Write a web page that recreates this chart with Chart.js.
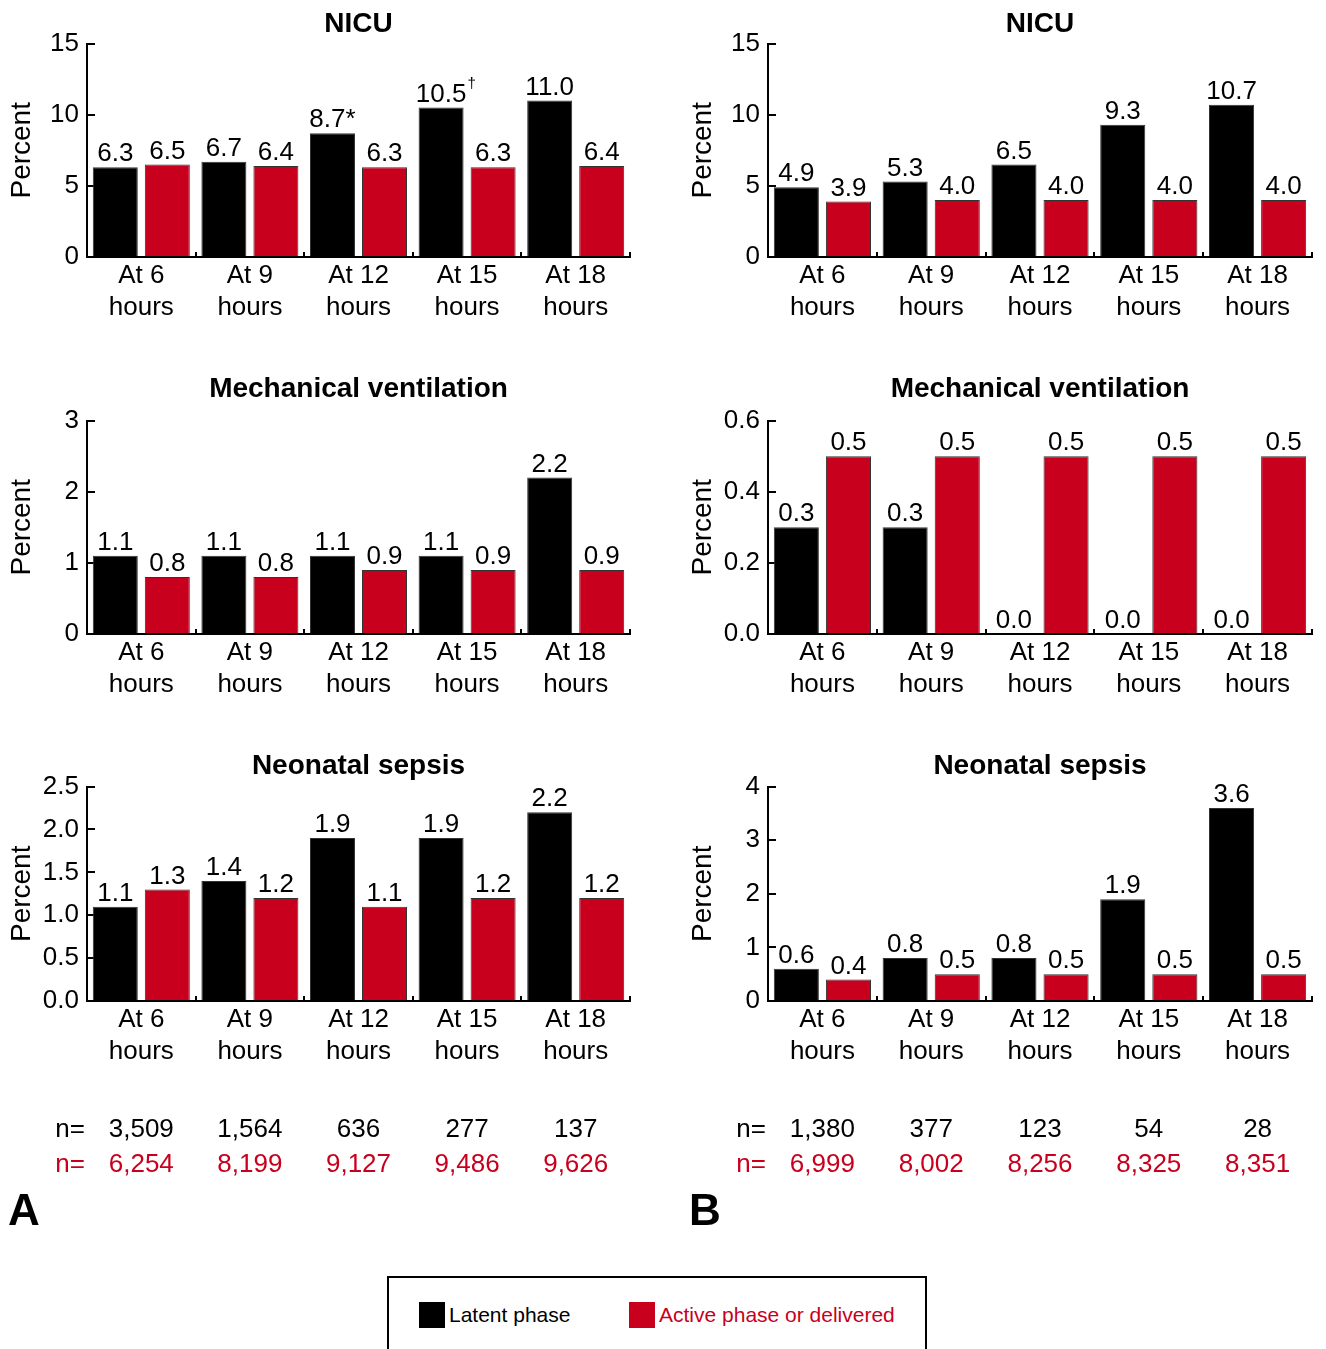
<!DOCTYPE html>
<html>
<head>
<meta charset="utf-8">
<script src="https://cdn.jsdelivr.net/npm/chart.js@4.4.1/dist/chart.umd.min.js"></script>
<style>
  body { margin: 0; background: #fff; width: 1326px; height: 1349px; overflow: hidden; position: relative;
         font-family: "Liberation Sans", Arial, sans-serif; }
  canvas { position: absolute; }
  #legend { position: absolute; left: 387px; top: 1276px; width: 540px; height: 90px; border: 2px solid #000; box-sizing: border-box; }
  .item { position: absolute; top: 24px; display: flex; align-items: center; font-size: 21px; }
  .swatch { width: 26px; height: 26px; margin-right: 4px; }
</style>
</head>
<body>
<canvas id="a1"></canvas>
<canvas id="b1"></canvas>
<canvas id="a2"></canvas>
<canvas id="b2"></canvas>
<canvas id="a3"></canvas>
<canvas id="b3"></canvas>
<div id="legend"></div>
<script>
// categories and series
const categories = [["At 6", "hours"], ["At 9", "hours"], ["At 12", "hours"], ["At 15", "hours"], ["At 18", "hours"]];
const seriesNames = ["Latent phase", "Active phase or delivered"];
const BLACK = "#000000";
const RED = "#C8001E";

// panel A (left column)
const nicuLatentA = [6.3, 6.7, 8.7, 10.5, 11.0];
const nicuActiveA = [6.5, 6.4, 6.3, 6.3, 6.4];
const nicuMarksA = ["", "", "*", "†", ""];
const ventLatentA = [1.1, 1.1, 1.1, 1.1, 2.2];
const ventActiveA = [0.8, 0.8, 0.9, 0.9, 0.9];
const sepsisLatentA = [1.1, 1.4, 1.9, 1.9, 2.2];
const sepsisActiveA = [1.3, 1.2, 1.1, 1.2, 1.2];
const nLatentA = [3509, 1564, 636, 277, 137];
const nActiveA = [6254, 8199, 9127, 9486, 9626];

// panel B (right column)
const nicuLatentB = [4.9, 5.3, 6.5, 9.3, 10.7];
const nicuActiveB = [3.9, 4.0, 4.0, 4.0, 4.0];
const ventLatentB = [0.3, 0.3, 0.0, 0.0, 0.0];
const ventActiveB = [0.5, 0.5, 0.5, 0.5, 0.5];
const sepsisLatentB = [0.6, 0.8, 0.8, 1.9, 3.6];
const sepsisActiveB = [0.4, 0.5, 0.5, 0.5, 0.5];
const nLatentB = [1380, 377, 123, 54, 28];
const nActiveB = [6999, 8002, 8256, 8325, 8351];

// y axis settings: [max, step, decimals]
const axisNicu = [15, 5, 0];
const axisVentA = [3, 1, 0];
const axisVentB = [0.6, 0.2, 1];
const axisSepsisA = [2.5, 0.5, 1];
const axisSepsisB = [4, 1, 0];

const FONT = '"Liberation Sans", Arial, sans-serif';
Chart.defaults.font.family = FONT;
Chart.defaults.color = "#000";

// value labels on top of each bar
const barValues = {
  id: "barValues",
  afterDatasetsDraw(chart) {
    const ctx = chart.ctx;
    ctx.save();
    ctx.textAlign = "center";
    ctx.textBaseline = "alphabetic";
    ctx.fillStyle = "#000";
    chart.data.datasets.forEach((ds, i) => {
      const meta = chart.getDatasetMeta(i);
      meta.data.forEach((bar, j) => {
        const mark = (ds.marks || [])[j] || "";
        let txt = ds.data[j].toFixed(1);
        if (mark === "*") txt += "*";
        ctx.font = "26px " + FONT;
        ctx.fillText(txt, bar.x, bar.y - 6);
        if (mark === "†") {
          const w = ctx.measureText(txt).width;
          ctx.font = "15px " + FONT;
          ctx.textAlign = "left";
          ctx.fillText("†", bar.x + w / 2 + 1, bar.y - 20);
          ctx.textAlign = "center";
        }
      });
    });
    ctx.restore();
  }
};

// n= rows and panel letter under the bottom charts
const nRows = {
  id: "nRows",
  afterDraw(chart, args, opts) {
    if (!opts.latent) return;
    const { ctx, chartArea } = chart;
    const x = chart.scales.x;
    ctx.save();
    ctx.font = "26px " + FONT;
    ctx.textBaseline = "middle";
    [[opts.latent, BLACK, 129], [opts.active, RED, 164]].forEach(([vals, color, dy]) => {
      ctx.fillStyle = color;
      ctx.textAlign = "right";
      ctx.fillText("n=", chartArea.left - 2, chartArea.bottom + dy);
      ctx.textAlign = "center";
      vals.forEach((v, i) => ctx.fillText(v.toLocaleString("en-US"), x.getPixelForValue(i), chartArea.bottom + dy));
    });
    ctx.fillStyle = "#000";
    ctx.font = "bold 44px " + FONT;
    ctx.textAlign = "left";
    ctx.fillText(opts.letter, chartArea.left - 79, chartArea.bottom + 212);
    ctx.restore();
  }
};

function makePanel(id, pos, title, titlePad, latent, active, axis, marks, extra) {
  const canvas = document.getElementById(id);
  canvas.width = pos.w;
  canvas.height = pos.h;
  canvas.style.left = pos.left + "px";
  canvas.style.top = pos.top + "px";
  const [max, step, dec] = axis;
  return new Chart(canvas, {
    type: "bar",
    data: {
      labels: categories,
      datasets: [
        { label: seriesNames[0], data: latent, marks: marks || [], backgroundColor: BLACK, borderColor: "#333", borderWidth: 1 },
        { label: seriesNames[1], data: active, backgroundColor: RED, borderColor: "#333", borderWidth: 1 }
      ]
    },
    options: {
      responsive: false,
      animation: false,
      layout: { padding: { left: 0, right: pos.padRight, top: 0, bottom: pos.padBottom || 0 } },
      datasets: { bar: { categoryPercentage: 0.958, barPercentage: 0.865 } },
      plugins: {
        legend: { display: false },
        tooltip: { enabled: false },
        title: {
          display: true, text: title, fullSize: false, color: "#000",
          font: { size: 28, weight: "bold" }, padding: titlePad
        },
        nRows: extra || {}
      },
      scales: {
        x: {
          grid: { display: true, drawOnChartArea: false, drawTicks: true, tickLength: -5, color: "#000", lineWidth: 2 },
          border: { display: true, color: "#000", width: 2 },
          ticks: { font: { size: 26, lineHeight: 1.22 }, color: "#000", padding: 8, maxRotation: 0, autoSkip: false },
          afterFit(scale) { scale.height = 73; }
        },
        y: {
          min: 0, max: max,
          grid: { display: true, drawOnChartArea: false, drawTicks: true, tickLength: -8, color: "#000", lineWidth: 2 },
          border: { display: true, color: "#000", width: 2 },
          ticks: {
            stepSize: step, padding: 16, color: "#000", font: { size: 26 },
            callback: (v) => Number(v).toFixed(dec)
          },
          title: { display: true, text: "Percent", color: "#000", font: { size: 28 }, padding: { top: 5, bottom: 0 } },
          afterFit(scale) { scale.width = 87; }
        }
      }
    },
    plugins: [barValues, nRows]
  });
}

makePanel("a1", { left: 0, top: 0, w: 640, h: 330, padRight: 10 }, "NICU", { top: 7, bottom: 3 },
  nicuLatentA, nicuActiveA, axisNicu, nicuMarksA);
makePanel("b1", { left: 681, top: 0, w: 640, h: 330, padRight: 9 }, "NICU", { top: 7, bottom: 3 },
  nicuLatentB, nicuActiveB, axisNicu);
makePanel("a2", { left: 0, top: 360, w: 640, h: 347, padRight: 10 }, "Mechanical ventilation", { top: 12, bottom: 15 },
  ventLatentA, ventActiveA, axisVentA);
makePanel("b2", { left: 681, top: 360, w: 640, h: 347, padRight: 9 }, "Mechanical ventilation", { top: 12, bottom: 15 },
  ventLatentB, ventActiveB, axisVentB);
makePanel("a3", { left: 0, top: 740, w: 640, h: 510, padRight: 10, padBottom: 176 }, "Neonatal sepsis", { top: 9, bottom: 4 },
  sepsisLatentA, sepsisActiveA, axisSepsisA, null, { latent: nLatentA, active: nActiveA, letter: "A" });
makePanel("b3", { left: 681, top: 740, w: 640, h: 510, padRight: 9, padBottom: 176 }, "Neonatal sepsis", { top: 9, bottom: 4 },
  sepsisLatentB, sepsisActiveB, axisSepsisB, null, { latent: nLatentB, active: nActiveB, letter: "B" });

// legend box
const legend = document.getElementById("legend");
const legendX = [30, 240];
[BLACK, RED].forEach((color, i) => {
  const item = document.createElement("div");
  item.className = "item";
  item.style.left = legendX[i] + "px";
  item.style.color = color;
  const sw = document.createElement("span");
  sw.className = "swatch";
  sw.style.background = color;
  item.appendChild(sw);
  item.appendChild(document.createTextNode(seriesNames[i]));
  legend.appendChild(item);
});
</script>
</body>
</html>
